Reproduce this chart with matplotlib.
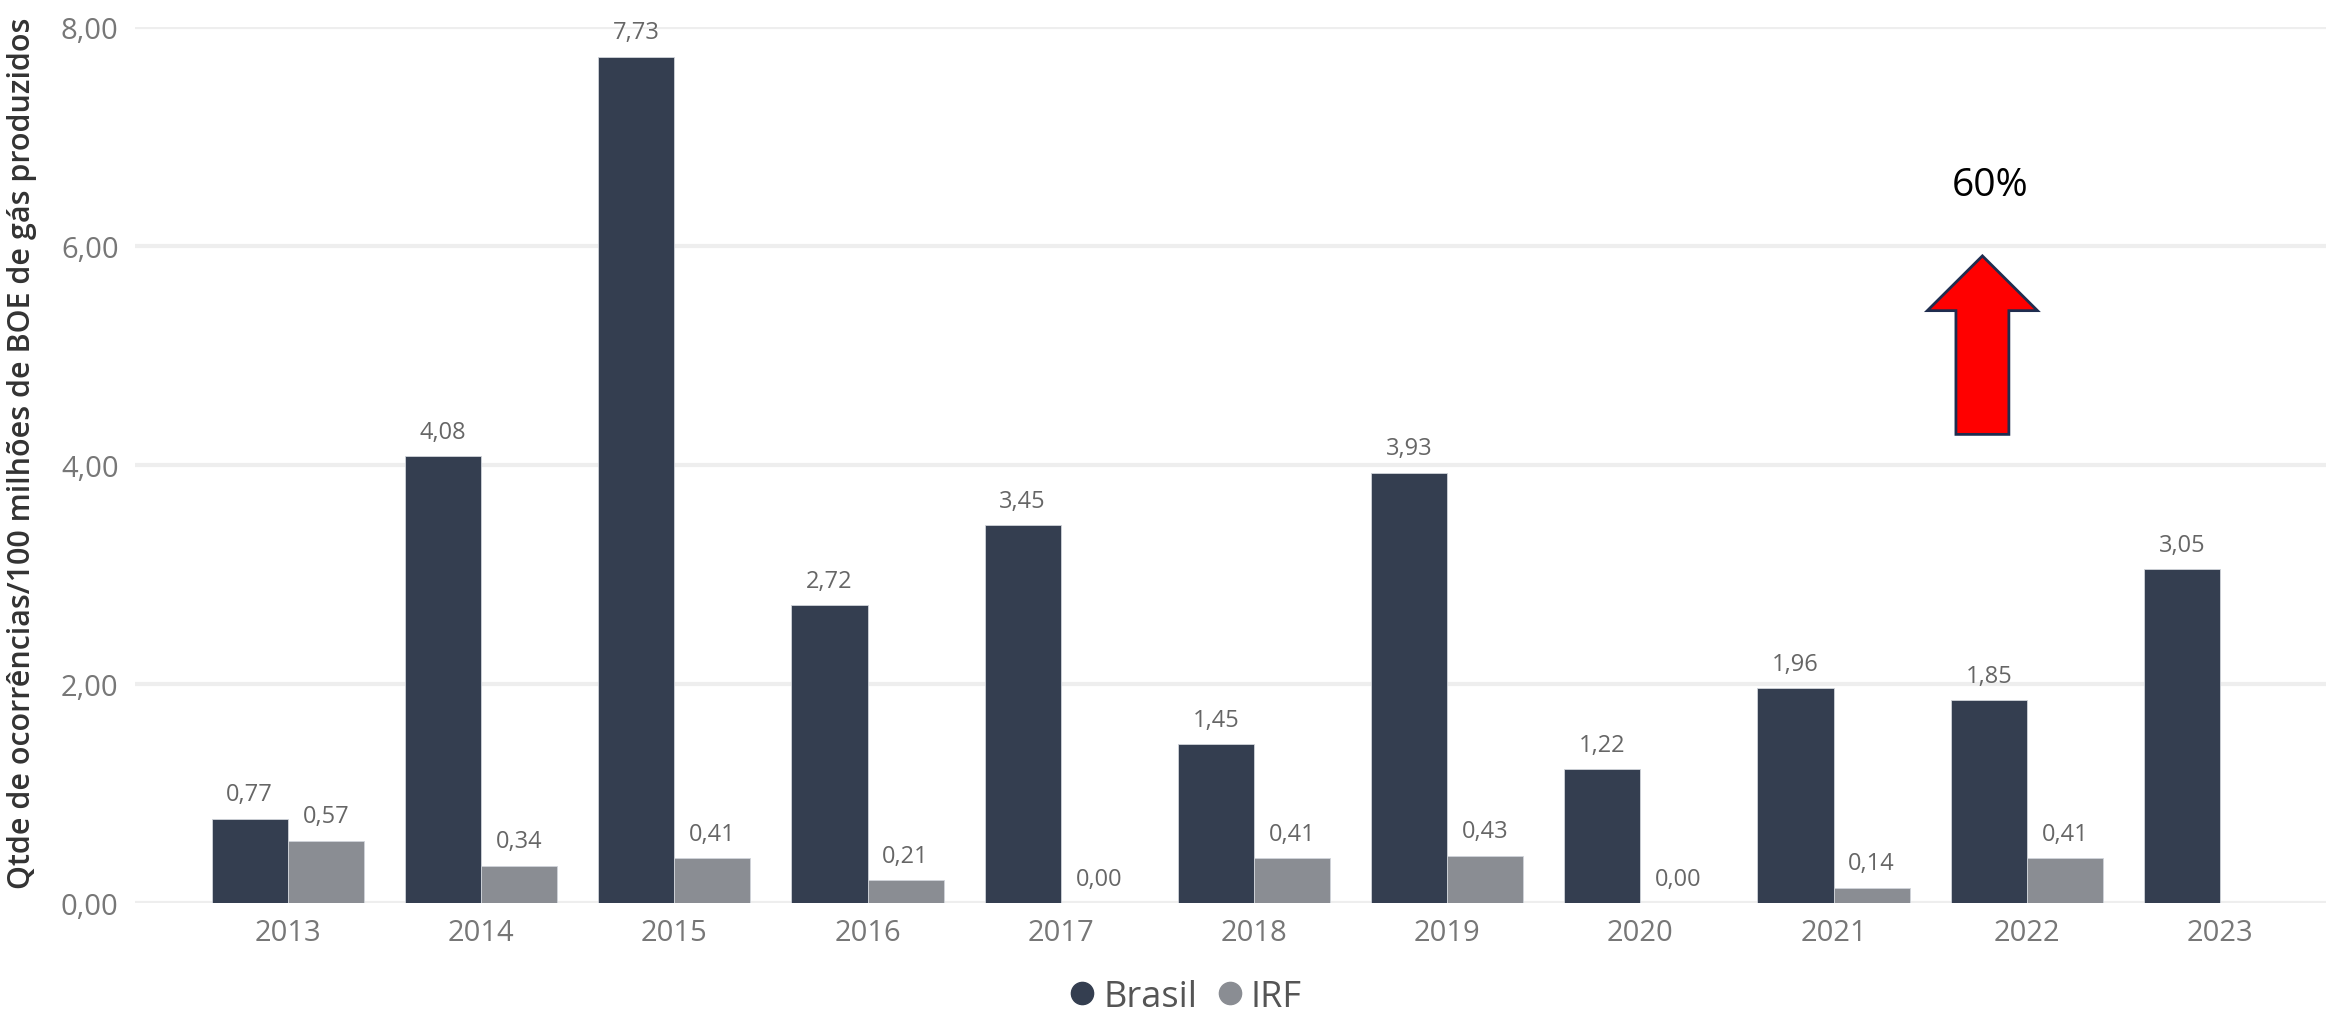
import numpy as np
import matplotlib.pyplot as plt
from matplotlib.lines import Line2D
from matplotlib.patches import FancyArrow

plt.rcParams['font.family'] = ['Open Sans', 'DejaVu Sans']

years = ['2013', '2014', '2015', '2016', '2017', '2018', '2019', '2020', '2021', '2022', '2023']
brasil = [0.77, 4.08, 7.73, 2.72, 3.45, 1.45, 3.93, 1.22, 1.96, 1.85, 3.05]
irf = [0.57, 0.34, 0.41, 0.21, 0.00, 0.41, 0.43, 0.00, 0.14, 0.41, np.nan]
yticks = [0, 2, 4, 6, 8]

c_brasil = '#343E50'
c_irf = '#8A8D93'
c_text = '#777777'

fig = plt.figure(figsize=(23.31, 10.2), dpi=100)
ax = fig.add_axes([0.058, 0.1137, 0.94, 0.8588])

x = np.arange(len(years))
w = 0.394
b1 = ax.bar(x - w / 2, brasil, w, color=c_brasil, edgecolor='#d0d4da', linewidth=0.6, zorder=3)
b2 = ax.bar(x + w / 2, irf, w, color=c_irf, edgecolor='#d0d4da', linewidth=0.6, zorder=3)

def fmt(v):
    return f'{v:.2f}'.replace('.', ',')

for bars, vals in [(b1, brasil), (b2, irf)]:
    for rect, v in zip(bars, vals):
        if np.isnan(v):
            continue
        ax.annotate(fmt(v), (rect.get_x() + rect.get_width() / 2, v),
                    xytext=(0, 9), textcoords='offset points',
                    ha='center', va='bottom', fontsize=17, color='#666666')

ax.set_xlim(-0.79, 10.55)
ax.set_ylim(0, 8)
ax.set_xticks(x)
ax.set_xticklabels(years)
ax.set_yticks(yticks)
ax.set_yticklabels([fmt(v) for v in yticks])
ax.tick_params(axis='both', length=0, labelsize=21, labelcolor=c_text)
ax.tick_params(axis='x', pad=11)
ax.tick_params(axis='y', pad=12)
for s in ax.spines.values():
    s.set_visible(False)
ax.grid(axis='y', color='#eeeeee', linewidth=3, zorder=0)
ax.set_axisbelow(True)

fig.text(0.0095, 0.556, 'Qtde de ocorrências/100 milhões de BOE de gás produzidos',
         rotation=90, ha='center', va='center', fontsize=22, color='#333333',
         fontweight='semibold')

# seta e anotação
arrow = FancyArrow(8.77, 4.28, 0, 1.63, width=0.274, head_width=0.57, head_length=0.50,
                   length_includes_head=True, facecolor='#ff0000', edgecolor='#1F2D4F',
                   linewidth=2, zorder=5)
ax.add_patch(arrow)
ax.text(8.81, 6.56, '60%', ha='center', va='center', fontsize=28, color='black')

handles = [Line2D([], [], marker='o', linestyle='', markersize=16, color=c_brasil),
           Line2D([], [], marker='o', linestyle='', markersize=16, color=c_irf)]
fig.legend(handles, ['Brasil', 'IRF'], loc='center', bbox_to_anchor=(0.509, 0.022),
           ncol=2, frameon=False, fontsize=26, labelcolor='#555555',
           handlelength=0.6, handletextpad=0.28, columnspacing=0.6)

fig.savefig('out.png', dpi=100)
